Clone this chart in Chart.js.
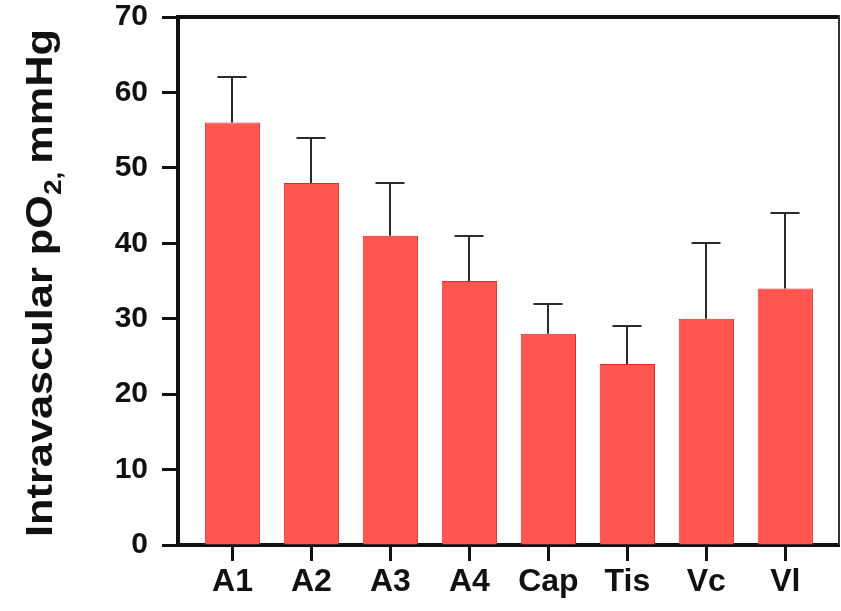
<!DOCTYPE html>
<html>
<head>
<meta charset="utf-8">
<script src="https://cdn.jsdelivr.net/npm/chart.js@4/dist/chart.umd.min.js"></script>
<style>
  html, body { margin: 0; padding: 0; background: #ffffff; }
  #wrap { width: 841px; height: 611px; position: relative; }
</style>
</head>
<body>
<div id="wrap"><canvas id="c" width="841" height="611"></canvas></div>
<script>
// Vessel / compartment categories
const categories = ['A1', 'A2', 'A3', 'A4', 'Cap', 'Tis', 'Vc', 'Vl'];
// Mean intravascular pO2 (mmHg)
const meanPO2 = [56, 48, 41, 35, 28, 24, 30, 34];
// Upper error (SD, mmHg)
const errorPO2 = [6, 6, 7, 6, 4, 5, 10, 10];
// Y-axis ticks
const yTicks = [0, 10, 20, 30, 40, 50, 60, 70];

const FONT = '"Liberation Sans", Arial, Helvetica, sans-serif';

// Upward-only error bars with caps
const errorBars = {
  id: 'errorBars',
  afterDatasetsDraw(chart) {
    const { ctx, scales: { x, y } } = chart;
    ctx.save();
    ctx.strokeStyle = '#2b2b2b';
    ctx.lineWidth = 2;
    meanPO2.forEach((v, i) => {
      const px = Math.round(x.getPixelForValue(i));
      const yBar = y.getPixelForValue(v);
      const yTop = Math.round(y.getPixelForValue(v + errorPO2[i]));
      ctx.beginPath();
      ctx.moveTo(px, yBar);
      ctx.lineTo(px, yTop);
      ctx.moveTo(px - 14.5, yTop);
      ctx.lineTo(px + 14.5, yTop);
      ctx.stroke();
    });
    ctx.restore();
  }
};

// Top and right edges of the plot frame
const frame = {
  id: 'frame',
  afterDraw(chart) {
    const { ctx, chartArea: a } = chart;
    ctx.save();
    ctx.strokeStyle = '#111111';
    ctx.lineWidth = 4;
    ctx.beginPath();
    ctx.moveTo(a.left - 2, a.top);
    ctx.lineTo(a.right, a.top);
    ctx.stroke();
    ctx.strokeStyle = '#333333';
    ctx.lineWidth = 2;
    ctx.beginPath();
    ctx.moveTo(a.right, a.top - 2);
    ctx.lineTo(a.right, a.bottom);
    ctx.stroke();
    ctx.restore();
  }
};

// Rotated y-axis title with subscript
const yTitle = {
  id: 'yTitle',
  afterDraw(chart) {
    const { ctx } = chart;
    const main = '700 37px ' + FONT;
    const sub = '700 24px ' + FONT;
    const parts = [
      { t: 'Intravascular pO', f: main, dy: 0 },
      { t: '2', f: sub, dy: 9 },
      { t: ', ', f: sub, dy: 9 },
      { t: 'mmHg', f: main, dy: 0 }
    ];
    ctx.save();
    let total = 0;
    parts.forEach(p => { ctx.font = p.f; p.w = ctx.measureText(p.t).width; total += p.w; });
    const targetLen = 508;
    const sx = targetLen / total;
    ctx.translate(52, 283);
    ctx.rotate(-Math.PI / 2);
    ctx.scale(sx, 1);
    ctx.fillStyle = '#111111';
    ctx.textBaseline = 'alphabetic';
    ctx.textAlign = 'left';
    let xPos = -total / 2;
    parts.forEach(p => {
      ctx.font = p.f;
      ctx.fillText(p.t, xPos, p.dy);
      xPos += p.w;
    });
    ctx.restore();
  }
};

new Chart(document.getElementById('c'), {
  type: 'bar',
  data: {
    datasets: [{
      data: meanPO2.map((v, i) => ({ x: i, y: v })),
      backgroundColor: '#ff5650',
      borderColor: '#e0282e',
      borderWidth: 1,
      barPercentage: 0.7,
      categoryPercentage: 1.0
    }]
  },
  options: {
    responsive: false,
    animation: false,
    devicePixelRatio: 1,
    layout: { padding: { top: 17, right: 2, left: 0, bottom: 0 } },
    plugins: { legend: { display: false }, tooltip: { enabled: false } },
    scales: {
      x: {
        type: 'linear',
        offset: false,
        min: -0.69,
        max: 7.68,
        afterBuildTicks: s => { s.ticks = categories.map((_, i) => ({ value: i })); },
        afterFit: s => { s.height = 66; s.paddingLeft = 0; s.paddingRight = 0; },
        border: { display: true, color: '#111111', width: 4 },
        grid: { display: true, offset: false, drawOnChartArea: false, drawTicks: true, tickLength: 16, tickWidth: 3, tickColor: '#111111' },
        ticks: {
          autoSkip: false,
          maxRotation: 0,
          padding: 2,
          color: '#111111',
          font: { family: FONT, size: 32, weight: 'bold' },
          callback: v => categories[v] ?? ''
        }
      },
      y: {
        min: 0,
        max: 70,
        afterBuildTicks: s => { s.ticks = yTicks.map(v => ({ value: v })); },
        afterFit: s => { s.width = 178; s.paddingTop = 0; s.paddingBottom = 0; },
        border: { display: true, color: '#111111', width: 4 },
        grid: { display: true, drawOnChartArea: false, drawTicks: true, tickLength: 16, tickWidth: 3, tickColor: '#111111' },
        ticks: {
          padding: 14,
          color: '#111111',
          font: { family: FONT, size: 30, weight: 'bold' }
        }
      }
    }
  },
  plugins: [errorBars, frame, yTitle]
});
</script>
</body>
</html>
